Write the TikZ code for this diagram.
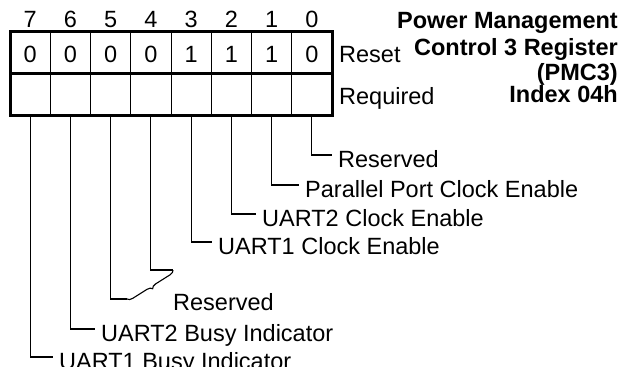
\documentclass[tikz,border=0pt]{standalone}
\usepackage{fontspec}
\setmainfont{Liberation Sans}
\usetikzlibrary{decorations.pathreplacing}
\begin{document}
\begin{tikzpicture}[x=1pt,y=-1pt,
  txt/.style={font=\fontsize{23.5}{28}\selectfont, inner sep=0pt},
  ttl/.style={font=\fontsize{23.5}{28}\selectfont\bfseries, inner sep=0pt, anchor=base east},
  lbl/.style={font=\fontsize{23.5}{28}\selectfont, anchor=west, inner xsep=6pt, inner ysep=0pt, text height=24pt, text depth=0pt},
  conn/.style={line width=1.1pt},
  thin/.style={line width=1pt},
  thick/.style={line width=3pt}]
\useasboundingbox (0,0) rectangle (622,367);
% grid
\foreach \i in {1,...,7} {
  \draw[thin] ({10+40.25*\i},31) -- ({10+40.25*\i},115);
}
\draw[thick] (10,73) -- (332,73);
\draw[thick] (10,31) rectangle (332,115);
% bit numbers, reset values, bottom coordinates
\foreach \b/\v in {7/0,6/0,5/0,4/0,3/1,2/1,1/1,0/0} {
  \node[txt, anchor=base] (n\b) at ({30.1+40.25*(7-\b)},27) {\b};
  \node[txt, anchor=base] (v\b) at ({30.1+40.25*(7-\b)},62) {\v};
  \coordinate (b\b) at ({30.1+40.25*(7-\b)},115);
}
\node[txt, anchor=base west] (reset) at (339,62) {Reset};
\node[txt, anchor=base west] (req) at (339,104) {Required};
% title
\node[ttl] (t1) at (618,28) {Power Management};
\node[ttl] (t2) at (618,55) {Control 3 Register};
\node[ttl] (t3) at (618,80) {(PMC3)};
\node[ttl] (t4) at (618,102) {Index 04h};
% labels
\node[lbl] (l0) at (332,155) {Reserved};
\node[lbl] (l1) at (299,185) {Parallel Port Clock Enable};
\node[lbl] (l2) at (256,214) {UART2 Clock Enable};
\node[lbl] (l3) at (212,242) {UART1 Clock Enable};
\node[txt, anchor=base west] (l45) at (173,310) {Reserved};
\node[lbl] (l6) at (95,329) {UART2 Busy Indicator};
\node[lbl] (l7) at (53,357) {UART1 Busy Indicator};
\coordinate (c4) at (173,270);
\coordinate (c5) at (127,299);
% connectors
\draw[conn] (b0) |- (l0.west);
\draw[conn] (b1) |- (l1.west);
\draw[conn] (b2) |- (l2.west);
\draw[conn] (b3) |- (l3.west);
\draw[conn] (b4) |- (c4);
\draw[conn] (b5) |- (c5);
\draw[conn, decorate, decoration={brace, amplitude=5pt}] (c4) -- (c5);
\draw[conn] (b6) |- (l6.west);
\draw[conn] (b7) |- (l7.west);
\end{tikzpicture}
\end{document}
